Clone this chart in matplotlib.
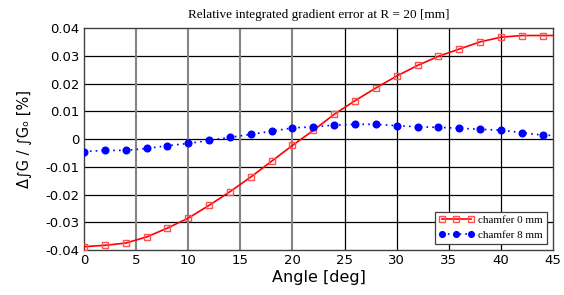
import matplotlib
matplotlib.use("Agg")
import matplotlib.pyplot as plt
import numpy as np

angles = [0, 2, 4, 6, 8, 10, 12, 14, 16, 18, 20, 22, 24, 26, 28, 30, 32, 34, 36, 38, 40, 42, 44, 45]
chamfer0 = [-0.0388, -0.0383, -0.0375, -0.0353, -0.0321, -0.0285, -0.0239, -0.0190, -0.0137,
            -0.0080, -0.0023, 0.0031, 0.0089, 0.0138, 0.0184, 0.0227, 0.0265, 0.0298,
            0.0324, 0.0350, 0.0367, 0.0373, 0.0373, 0.0373]
chamfer8 = [-0.0045, -0.0041, -0.0041, -0.0034, -0.0024, -0.0016, -0.0005, 0.0006, 0.0017,
            0.0028, 0.0040, 0.0044, 0.0050, 0.0053, 0.0053, 0.0048, 0.0044, 0.0042,
            0.0039, 0.0035, 0.0032, 0.0023, 0.0014, 0.0013]
xticks = [0, 5, 10, 15, 20, 25, 30, 35, 40, 45]
yticks = [-0.04, -0.03, -0.02, -0.01, 0, 0.01, 0.02, 0.03, 0.04]
ytick_labels = ["-0.04", "-0.03", "-0.02", "-0.01", "0", "0.01", "0.02", "0.03", "0.04"]

fig = plt.figure(figsize=(5.64, 2.95), dpi=100)
ax = fig.add_axes([0.149, 0.1525, 0.8315, 0.7525])

# grid
for v in yticks[1:-1]:
    ax.axhline(v, color="black", lw=0.9, zorder=1)
for v in xticks[1:-1]:
    col = "#858585" if v <= 20 else "black"
    lw = 1.5 if v <= 20 else 0.9
    ax.axvline(v, color=col, lw=lw, zorder=1)

n = len(angles) - 1
ax.plot(angles, chamfer0, color="red", lw=1.2, marker="s", ms=4.6, mfc="none",
        mec="#ff5050", mew=1.0, markevery=list(range(n)), label="chamfer 0 mm", zorder=3)
ax.plot(angles, chamfer8, color="blue", lw=1.2, ls=(0, (1, 2.5)), marker="o", ms=4.8,
        mfc="blue", mec="blue", markevery=list(range(n)), label="chamfer 8 mm", zorder=3)

ax.set_xlim(0, 45)
ax.set_ylim(-0.04, 0.04)
ax.set_xticks(xticks)
ax.set_xticklabels([str(x) for x in xticks], fontsize=9.5)
ax.set_yticks(yticks)
ax.set_yticklabels(ytick_labels, fontsize=9.5)
ax.tick_params(length=0, pad=3)
for s in ax.spines.values():
    s.set_color("#404040")
    s.set_linewidth(1.0)

ax.set_xlabel("Angle [deg]", fontsize=11.5, labelpad=2)
ax.set_ylabel("Δ∫G / ∫Gₒ [%]", fontsize=10.5, labelpad=10)
ax.set_title("Relative integrated gradient error at R = 20 [mm]", fontsize=9.5,
             family="Liberation Serif", pad=7)

leg = ax.legend(loc="lower right", numpoints=3, prop={"family": "Liberation Serif", "size": 8},
                fancybox=False, framealpha=1, edgecolor="#404040", borderpad=0.35,
                handlelength=3.2, handletextpad=0.4, labelspacing=0.45, markerscale=0.85,
                bbox_to_anchor=(0.987, 0.027), borderaxespad=0)
leg.get_frame().set_linewidth(0.9)

fig.savefig("out.png", dpi=100)
